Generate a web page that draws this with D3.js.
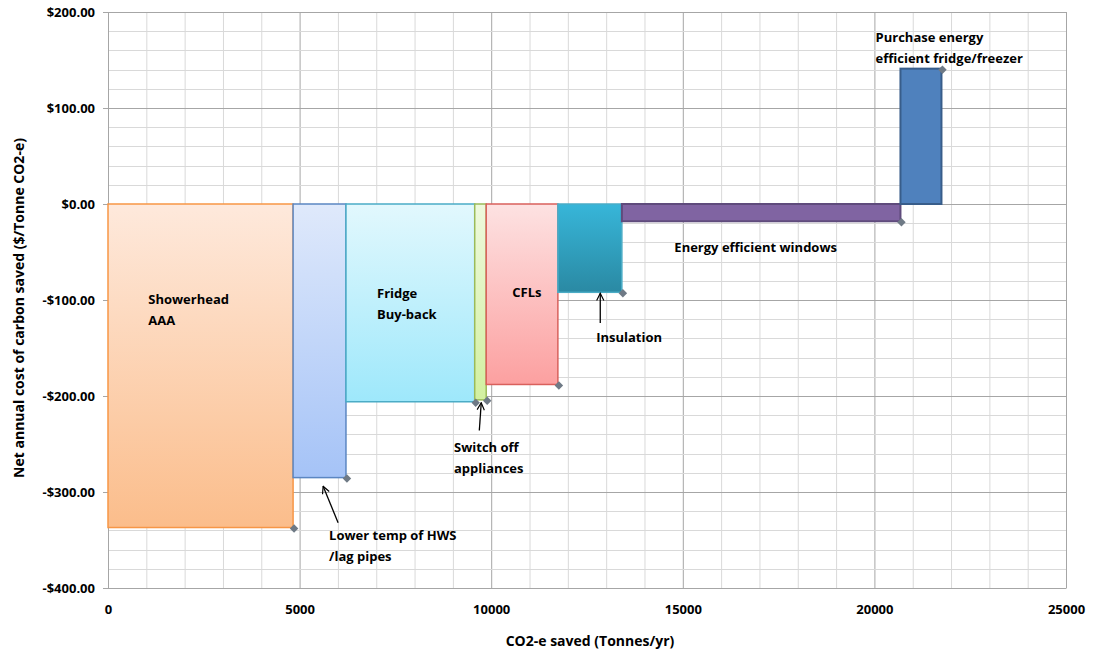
<!DOCTYPE html>
<html>
<head>
<meta charset="utf-8">
<script src="https://cdn.jsdelivr.net/npm/d3@7"></script>
<style>
  html, body { margin: 0; padding: 0; background: #fff; }
  svg { display: block; font-family: "Open Sans", "Noto Sans", sans-serif; }
</style>
</head>
<body>
<svg id="chart" width="1095" height="657"></svg>
<script>
// Abatement measures, in order along the curve
const measures = [
  "Showerhead AAA",
  "Lower temp of HWS /lag pipes",
  "Fridge Buy-back",
  "Switch off appliances",
  "CFLs",
  "Insulation",
  "Energy efficient windows",
  "Purchase energy efficient fridge/freezer"
];
// Cumulative CO2-e saved at the end of each measure (Tonnes/yr)
const cumulativeSaved = [4830, 6210, 9570, 9870, 11740, 13410, 20680, 21750];
// Net annual cost of carbon saved ($/Tonne CO2-e)
const netCost = [-337, -285, -206, -204, -188, -92, -18, 141];

const xTicks = [0, 5000, 10000, 15000, 20000, 25000];
const yTicks = [-400, -300, -200, -100, 0, 100, 200];

// Fill / stroke styling per measure
const styles = [
  { top: "#fee9dc", bottom: "#fbbd8b", stroke: "#f79646" },
  { top: "#dfe9fb", bottom: "#a5c3f7", stroke: "#5b86c2" },
  { top: "#e2f8fd", bottom: "#9ee8fb", stroke: "#4bacc6" },
  { top: "#eef9dd", bottom: "#d2f0a0", stroke: "#9bbb59" },
  { top: "#fde2e2", bottom: "#fca0a0", stroke: "#d9605c" },
  { top: "#37b6d9", bottom: "#2a89a3", stroke: "#4bacc6" },
  { top: "#8064a2", bottom: "#8064a2", stroke: "#5f4b7c" },
  { top: "#4f81bd", bottom: "#4f81bd", stroke: "#385d8a" }
];

// Annotation text placement (data units: left x, centre y of first line)
const labelPlacement = [
  { lines: ["Showerhead", "AAA"], x: 1050, y: -99 },
  { lines: ["Lower temp of HWS", "/lag pipes"], x: 5770, y: -345 },
  { lines: ["Fridge", "Buy-back"], x: 7020, y: -93 },
  { lines: ["Switch off", "appliances"], x: 9030, y: -253 },
  { lines: ["CFLs"], x: 10550, y: -92 },
  { lines: ["Insulation"], x: 12740, y: -139 },
  { lines: ["Energy efficient windows"], x: 14780, y: -45 },
  { lines: ["Purchase energy", "efficient fridge/freezer"], x: 20030, y: 174 }
];

// Pointer arrows (data units: tail -> head)
const arrows = [
  { x1: 6005, y1: -332, x2: 5614, y2: -294 },
  { x1: 9690, y1: -236, x2: 9740, y2: -207 },
  { x1: 12846, y1: -124, x2: 12846, y2: -93 }
];

const svg = d3.select("#chart");
const plot = { left: 108, right: 1066, top: 12, bottom: 588 };

const x = d3.scaleLinear().domain([0, 25000]).range([plot.left, plot.right]);
const y = d3.scaleLinear().domain([-400, 200]).range([plot.bottom, plot.top]);

// Gradients
const defs = svg.append("defs");
styles.forEach((s, i) => {
  const g = defs.append("linearGradient").attr("id", "grad" + i)
    .attr("x1", 0).attr("y1", 0).attr("x2", 0).attr("y2", 1);
  g.append("stop").attr("offset", "0%").attr("stop-color", s.top);
  g.append("stop").attr("offset", "100%").attr("stop-color", s.bottom);
});
const arrowMarker = defs.append("marker").attr("id", "arrowHead")
  .attr("viewBox", "0 0 10 10").attr("refX", 9).attr("refY", 5)
  .attr("markerWidth", 9).attr("markerHeight", 9).attr("markerUnits", "userSpaceOnUse")
  .attr("orient", "auto");
arrowMarker.append("path").attr("d", "M1,1 L9,5 L1,9").attr("fill", "none")
  .attr("stroke", "#000").attr("stroke-width", 1.3);

// Grid lines
const grid = svg.append("g");
const vLines = d3.range(0, 25001, 1000);
const hLines = d3.range(-400, 201, 20);
grid.selectAll(".v").data(vLines).join("line")
  .attr("x1", d => x(d) + 0.5).attr("x2", d => x(d) + 0.5)
  .attr("y1", plot.top).attr("y2", plot.bottom)
  .attr("stroke", d => d % 5000 === 0 ? "#a6a6a6" : "#d9d9d9")
  .attr("stroke-width", 1);
grid.selectAll(".h").data(hLines).join("line")
  .attr("x1", plot.left).attr("x2", plot.right)
  .attr("y1", d => Math.round(y(d)) + 0.5).attr("y2", d => Math.round(y(d)) + 0.5)
  .attr("stroke", d => d % 100 === 0 ? "#a6a6a6" : "#d9d9d9")
  .attr("stroke-width", 1);

// Axes
const yAxis = svg.append("g").attr("transform", `translate(${plot.left},0)`)
  .call(d3.axisLeft(y).tickValues(yTicks).tickSize(5).tickPadding(8)
    .tickFormat(d => (d < 0 ? "-$" : "$") + Math.abs(d).toFixed(2)));
yAxis.select(".domain").attr("stroke", "#a6a6a6");
yAxis.selectAll(".tick line").attr("stroke", "#a6a6a6");
yAxis.selectAll("text").attr("font-size", 13).attr("font-weight", 700).attr("fill", "#000")
  .attr("font-family", "'Open Sans', sans-serif");

const xAxis = svg.append("g").attr("transform", `translate(0,${plot.bottom})`)
  .call(d3.axisBottom(x).tickValues(xTicks).tickSize(0).tickPadding(17)
    .tickFormat(d3.format("d")));
xAxis.select(".domain").attr("stroke", "#a6a6a6");
xAxis.selectAll("text").attr("font-size", 13).attr("font-weight", 700).attr("fill", "#000")
  .attr("font-family", "'Open Sans', sans-serif");

// Bars: each measure spans from the previous cumulative total to its own
const bars = measures.map((m, i) => ({
  name: m,
  x0: i === 0 ? 0 : cumulativeSaved[i - 1],
  x1: cumulativeSaved[i],
  cost: netCost[i],
  style: styles[i],
  idx: i
}));

svg.append("g").selectAll("rect").data(bars).join("rect")
  .attr("x", d => x(d.x0))
  .attr("width", d => x(d.x1) - x(d.x0))
  .attr("y", d => Math.min(y(0), y(d.cost)))
  .attr("height", d => Math.abs(y(d.cost) - y(0)))
  .attr("fill", d => `url(#grad${d.idx})`)
  .attr("stroke", d => d.style.stroke)
  .attr("stroke-width", d => d.idx >= 6 ? 2 : 1.5);

// Data point markers at each measure's end (square turned 45°)
svg.append("g").selectAll("path").data(bars).join("path")
  .attr("transform", d => `translate(${x(d.x1) + 1},${y(d.cost) + 1}) rotate(45)`)
  .attr("d", d3.symbol(d3.symbolSquare, 36))
  .attr("fill", "#6f7a86");

// Arrows
svg.append("g").selectAll("line").data(arrows).join("line")
  .attr("x1", d => x(d.x1)).attr("y1", d => y(d.y1))
  .attr("x2", d => x(d.x2)).attr("y2", d => y(d.y2))
  .attr("stroke", "#000").attr("stroke-width", 1.3)
  .attr("marker-end", "url(#arrowHead)");

// Measure labels
const labels = svg.append("g").attr("font-size", 13).attr("font-weight", 700).attr("fill", "#000");
labelPlacement.forEach(l => {
  const t = labels.append("text").attr("x", x(l.x)).attr("y", y(l.y)).attr("dominant-baseline", "central");
  l.lines.forEach((line, k) => {
    t.append("tspan").attr("x", x(l.x)).attr("dy", k === 0 ? 0 : 21).text(line);
  });
});

// Axis titles
svg.append("text")
  .attr("transform", `translate(18,${(plot.top + plot.bottom) / 2 + 8}) rotate(-90)`)
  .attr("text-anchor", "middle").attr("dominant-baseline", "central")
  .attr("font-size", 14).attr("font-weight", 700)
  .text("Net annual cost of carbon saved ($/Tonne CO2-e)");
svg.append("text")
  .attr("x", 590).attr("y", 640)
  .attr("text-anchor", "middle").attr("dominant-baseline", "central")
  .attr("font-size", 14).attr("font-weight", 700)
  .text("CO2-e saved (Tonnes/yr)");
</script>
</body>
</html>
